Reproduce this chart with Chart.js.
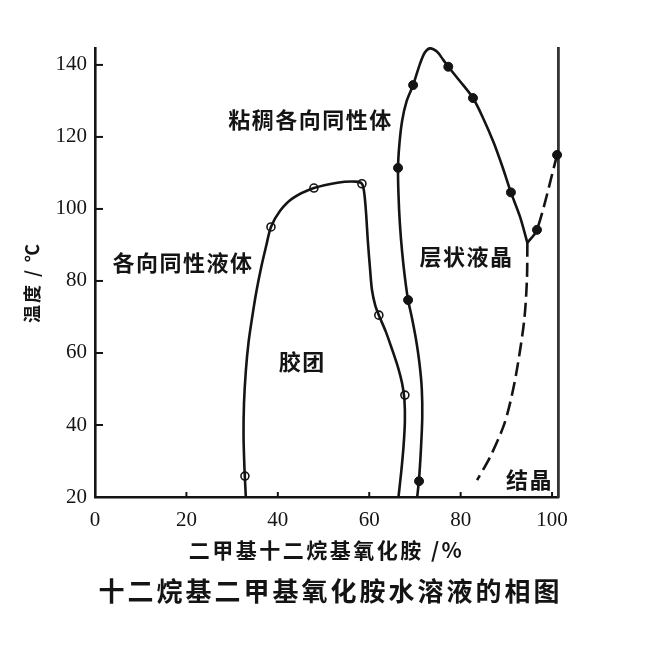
<!DOCTYPE html>
<html>
<head>
<meta charset="utf-8">
<script src="https://cdn.jsdelivr.net/npm/chart.js@4.4.0/dist/chart.umd.min.js"></script>
<style>
  html, body { margin: 0; padding: 0; background: #fff; }
  #wrap { width: 654px; height: 645px; }
</style>
</head>
<body>
<div id="wrap"><canvas id="c" width="654" height="645"></canvas></div>
<script>
// ---- data ----
const xTickValues = [0, 20, 40, 60, 80, 100];
const yTickValues = [20, 40, 60, 80, 100, 120, 140];

// micelle (胶团) boundary, solid line
const micelleX = [33.0, 32.7, 32.5, 32.6, 33.0, 33.6, 34.4, 35.3, 36.4, 37.5, 38.5, 40.5, 43.3, 47.9, 53.0, 57.0, 58.4, 58.9, 59.3, 59.7, 60.2, 60.6, 61.3, 62.1, 63.6, 65.0, 66.3, 67.2, 67.7, 67.8, 67.5, 67.0, 66.4];
const micelleY = [20, 28, 37, 46, 55, 63, 70, 77, 84, 90, 95, 99.5, 103, 105.8, 107.3, 107.6, 107, 104.5, 99, 91, 83, 77.5, 73.3, 70.5, 66, 61, 56, 51.5, 47, 41, 34, 27, 20];
// open-circle measured points
const openX = [32.8, 38.5, 47.9, 58.4, 62.1, 67.8];
const openY = [25.8, 95, 105.8, 107, 70.5, 48.3];

// lamellar liquid crystal (层状液晶) boundary, solid line
const lamellarX = [70.5, 70.9, 71.3, 71.6, 71.5, 71.0, 70.2, 69.3, 68.5, 67.8, 67.2, 66.7, 66.4, 66.3, 66.6, 67.2, 68.2, 69.6, 71.1, 72.2, 73.3, 74.8, 76.2, 77.3, 79.9, 82.7, 85.0, 87.2, 89.2, 91.0, 93.0, 94.6];
const lamellarY = [20, 25, 33, 42, 50, 57, 64, 70, 74.7, 81, 88, 96, 104, 111.4, 118, 124.5, 130, 134.4, 140.3, 143.5, 144.6, 143.7, 141.4, 139.5, 135.4, 130.8, 125, 118.5, 111.5, 104.6, 97.8, 90.6];
// filled measured points
const filledX = [70.9, 68.5, 66.3, 69.6, 77.3, 82.7, 91.0, 96.7, 101.1];
const filledY = [24.4, 74.7, 111.4, 134.4, 139.5, 130.8, 104.6, 94.2, 115];

// crystal (结晶) boundary, dashed
const crystalX = [94.6, 94.5, 93.9, 92.3, 90.8, 89.3, 86.4, 83.6];
const crystalY = [90.6, 80.3, 69, 55.3, 46, 39.4, 31, 24.7];
// dashed rising branch
const riseX = [94.6, 96.7, 101.1];
const riseY = [90.6, 94.2, 115];

// region labels (placed in data units)
const regionText = ['粘稠各向同性体', '各向同性液体', '胶团', '层状液晶', '结晶'];
const regionX = [47.0, 19.1, 45.2, 81.1, 94.9];
const regionY = [124.7, 85, 57.5, 86.7, 24.7];

const xAxisTitle = '二甲基十二烷基氧化胺 /%';
const yAxisTitle = '温度 / ℃';
const chartTitle = '十二烷基二甲基氧化胺水溶液的相图';

const pts = (xs, ys) => xs.map((v, i) => ({x: v, y: ys[i]}));

const INK = '#141414';
const CJK = '"Noto Sans CJK SC", "Noto Sans", sans-serif';

const textPlugin = {
  id: 'texts',
  afterDatasetsDraw(chart) {
    const {ctx, chartArea, scales: {x, y}} = chart;
    ctx.save();
    // inward tick marks
    ctx.strokeStyle = INK;
    ctx.lineWidth = 2;
    xTickValues.forEach(v => {
      if (v === 0) return;
      const px = x.getPixelForValue(v);
      ctx.beginPath(); ctx.moveTo(px, chartArea.bottom); ctx.lineTo(px, chartArea.bottom - 5); ctx.stroke();
    });
    yTickValues.forEach(v => {
      if (v === 20) return;
      const py = y.getPixelForValue(v);
      ctx.beginPath(); ctx.moveTo(chartArea.left, py); ctx.lineTo(chartArea.left + 8, py); ctx.stroke();
    });
    // region labels
    ctx.fillStyle = INK;
    ctx.textBaseline = 'middle';
    ctx.textAlign = 'center';
    ctx.font = 'bold 22px ' + CJK;
    ctx.letterSpacing = '1.5px';
    regionText.forEach((t, i) => {
      ctx.fillText(t, x.getPixelForValue(regionX[i]) + 0.75, y.getPixelForValue(regionY[i]));
    });
    // x axis title
    const cx = (chartArea.left + chartArea.right) / 2;
    ctx.font = 'bold 21px ' + CJK;
    ctx.letterSpacing = '2.5px';
    ctx.fillText(xAxisTitle, cx, chartArea.bottom + 53);
    // chart title (below)
    ctx.font = 'bold 26px ' + CJK;
    ctx.letterSpacing = '3px';
    ctx.fillText(chartTitle, cx + 4, chartArea.bottom + 94);
    // y axis title (rotated)
    ctx.translate(32, (chartArea.top + chartArea.bottom) / 2 + 10);
    ctx.rotate(-Math.PI / 2);
    ctx.font = 'bold 18px ' + CJK;
    ctx.letterSpacing = '2px';
    ctx.fillText(yAxisTitle, 0, 0);
    ctx.restore();
  }
};

const lineDs = (data, dash) => ({
  type: 'scatter', data, showLine: true, tension: 0.3, clip: false,
  borderColor: INK, borderWidth: 2.6, borderDash: dash || [],
  pointRadius: 0, pointHoverRadius: 0, fill: false
});

new Chart(document.getElementById('c'), {
  type: 'scatter',
  data: {
    datasets: [
      lineDs(pts(micelleX, micelleY)),
      lineDs(pts(lamellarX, lamellarY)),
      lineDs(pts(crystalX, crystalY), [14, 6]),
      lineDs(pts(riseX, riseY), [14, 6]),
      { type: 'scatter', data: pts(openX, openY), pointRadius: 4, pointBackgroundColor: '#fff',
        pointBorderColor: INK, pointBorderWidth: 1.6, showLine: false, clip: false },
      { type: 'scatter', data: pts(filledX, filledY), pointRadius: 4.5, pointBackgroundColor: INK,
        pointBorderColor: INK, pointBorderWidth: 1, showLine: false, clip: false }
    ]
  },
  options: {
    responsive: false,
    animation: false,
    events: [],
    layout: { padding: { top: 48, right: 96, bottom: 0, left: 0 } },
    plugins: { legend: { display: false }, tooltip: { enabled: false }, title: { display: false } },
    scales: {
      x: {
        type: 'linear', min: 0, max: 101.3,
        afterBuildTicks: s => { s.ticks = xTickValues.map(v => ({value: v})); },
        afterFit: s => { s.height = 148; },
        grid: { display: false, drawTicks: false },
        border: { display: true, color: INK, width: 2.6 },
        ticks: { color: INK, padding: 11, font: { family: '"Liberation Serif", serif', size: 21 } }
      },
      y: {
        type: 'linear', min: 20, max: 144.7,
        afterBuildTicks: s => { s.ticks = yTickValues.map(v => ({value: v})); },
        afterFit: s => { s.width = 95; },
        grid: { display: false, drawTicks: false },
        border: { display: true, color: INK, width: 2.6 },
        ticks: { color: INK, padding: 8, font: { family: '"Liberation Serif", serif', size: 21 } }
      },
      y2: {
        type: 'linear', position: 'right', min: 20, max: 144.7,
        afterFit: s => { s.width = 0; },
        grid: { display: false, drawTicks: false },
        border: { display: true, color: '#333', width: 2.8 },
        ticks: { display: false }
      }
    }
  },
  plugins: [textPlugin]
});
</script>
</body>
</html>
